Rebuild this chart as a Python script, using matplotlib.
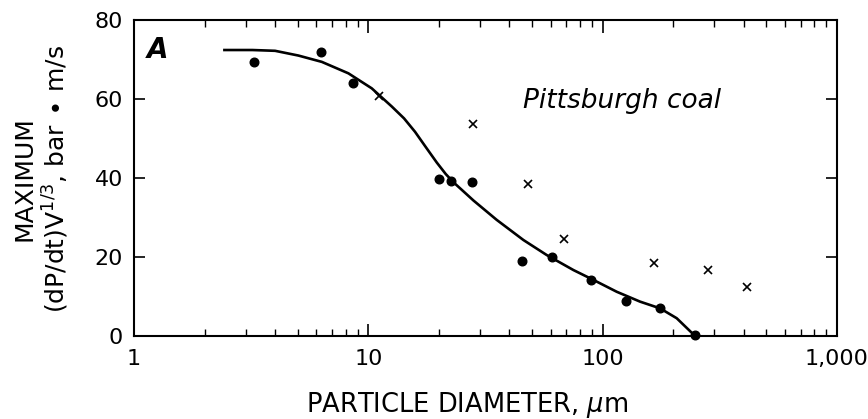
import matplotlib
matplotlib.use("Agg")
import matplotlib.pyplot as plt
from matplotlib.ticker import FixedLocator, FixedFormatter, LogLocator, NullFormatter

# ---- data ----
curve_x = [2.40, 3.2, 4.0, 5.03, 6.33, 8.22, 10.34, 12.59, 14.2, 15.82, 17.6, 19.6, 21.4, 23.1, 28.1,
           35.3, 45.9, 57.7, 75.0, 91.3, 114.8, 144.4, 175.8, 207.0, 248.0]
curve_y = [72.4, 72.4, 72.2, 71.0, 69.4, 66.5, 62.7, 58.1, 55.1, 51.7, 47.8, 43.9, 41.0, 38.9, 34.3,
           29.4, 24.3, 20.5, 16.7, 14.2, 11.2, 8.7, 7.0, 4.5, 0.0]

dot_x = [3.26, 6.3, 8.58, 20.0, 22.5, 27.6, 45.3, 60.6, 89.2, 125.9, 175.8, 248.0]
dot_y = [69.4, 72.0, 64.1, 39.8, 39.3, 38.9, 19.0, 20.1, 14.2, 8.9, 7.2, 0.25]

cross_x = [11.1, 28.1, 47.9, 68.4, 165.7, 282.7, 412.0]
cross_y = [60.8, 53.6, 38.5, 24.5, 18.4, 16.7, 12.3]

x_ticks = [1, 10, 100, 1000]
x_tick_labels = ["1", "10", "100", "1,000"]
y_ticks = [0, 20, 40, 60, 80]
y_tick_labels = ["0", "20", "40", "60", "80"]

plt.rcParams['font.family'] = ['DejaVu Sans']
plt.rcParams['mathtext.fontset'] = 'dejavusans'

fig = plt.figure(figsize=(8.68, 4.19), dpi=100)
ax = fig.add_axes([134/868, 1-336/419, (837-134)/868, (336-20)/419])

ax.plot(curve_x, curve_y, color='black', lw=1.9, solid_capstyle='butt',
        solid_joinstyle='round', zorder=2)
ax.plot(dot_x, dot_y, 'o', color='black', ms=6.2, zorder=3, clip_on=False)
ax.plot(cross_x, cross_y, 'x', color='black', ms=5.5, mew=1.2, zorder=3)

ax.set_xscale('log')
ax.set_xlim(1, 1000)
ax.set_ylim(0, 80)

ax.xaxis.set_major_locator(FixedLocator(x_ticks))
ax.xaxis.set_major_formatter(FixedFormatter(x_tick_labels))
ax.xaxis.set_minor_locator(LogLocator(base=10, subs=range(2, 10)))
ax.xaxis.set_minor_formatter(NullFormatter())
ax.yaxis.set_major_locator(FixedLocator(y_ticks))
ax.yaxis.set_major_formatter(FixedFormatter(y_tick_labels))

ax.tick_params(axis='both', which='both', direction='in', top=True, right=True, color='black')
ax.tick_params(axis='x', which='major', length=9, width=1.2, labelsize=16, pad=9)
ax.tick_params(axis='x', which='minor', length=5, width=1.0)
ax.tick_params(axis='y', which='major', length=8, width=1.2, labelsize=16, pad=8)
for s in ax.spines.values():
    s.set_linewidth(1.5)

ax.text(0.018, 0.905, "A", transform=ax.transAxes, fontsize=20, style='italic',
        fontweight='bold', ha='left', va='center')
ax.text(0.553, 0.745, "Pittsburgh coal", transform=ax.transAxes, fontsize=19,
        style='italic', ha='left', va='center')

fig.text(24/868, 1-179/419, "MAXIMUM", rotation=90, ha='center', va='center', fontsize=18)
fig.text(56/868, 1-179/419, r"(dP/dt)V$^{1/3}$, bar$\,\bullet\,$m/s", rotation=90,
         ha='center', va='center', fontsize=18)
fig.text(467/868, 1-405/419, r"PARTICLE DIAMETER, $\mu$m", ha='center', va='center', fontsize=18.5)

fig.savefig("out.png", dpi=100, facecolor='white')
